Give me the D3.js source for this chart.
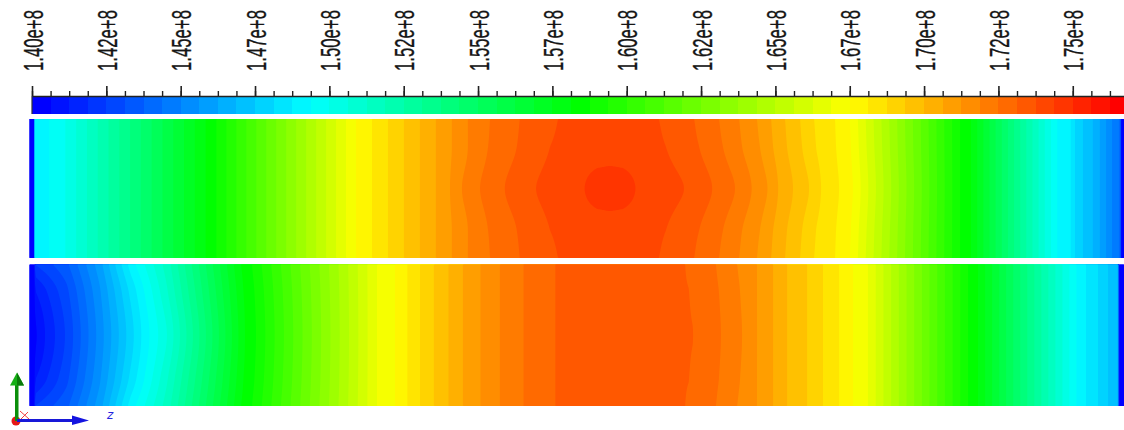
<!DOCTYPE html>
<html>
<head>
<meta charset="utf-8">
<script src="https://cdn.jsdelivr.net/npm/d3@7"></script>
<style>
  html, body { margin: 0; padding: 0; background: #fff; overflow: hidden; }
  svg { display: block; }
</style>
</head>
<body>
<svg id="chart" width="1124" height="430"></svg>
<script>
// Static pressure contours (Pa) on two channel sections, banded colour map.

// ---- colour levels -------------------------------------------------------
const levelMin = 1.40e8;      // Pa
const levelStep = 0.625e6;    // Pa per band
const levelCount = 59;

const tickValues = [1.40e8, 1.425e8, 1.45e8, 1.475e8, 1.50e8, 1.525e8, 1.55e8, 1.575e8,
                    1.60e8, 1.625e8, 1.65e8, 1.675e8, 1.70e8, 1.725e8, 1.75e8];
const tickLabels = ["1.40e+8", "1.42e+8", "1.45e+8", "1.47e+8", "1.50e+8", "1.52e+8", "1.55e+8", "1.57e+8",
                    "1.60e+8", "1.62e+8", "1.65e+8", "1.67e+8", "1.70e+8", "1.72e+8", "1.75e+8"];

// ---- sampled pressure profiles (position along section in mm, pressure in MPa) ----
// rows across the section: wall, 20 % in from the wall, centreline (mirrored below)
const rowFractions = [0, 0.2, 0.5, 0.8, 1];

const topWallPos = [0, 4.7, 5.0, 30.5, 176.2, 186.9, 326.5, 406.5, 438.5, 460.5, 490.5, 528.5, 580.5, 629.5, 664.5, 689.5, 709.5, 727.5, 741.5, 755.5, 770.5, 784.5, 805.5, 820.5, 930.5, 941.5, 1027.5, 1041.5, 1047.5, 1060.5, 1072.5, 1082.5, 1090.8, 1091.8, 1094.5];
const topWallMPa = [140, 140, 148.94, 149.69, 158.13, 158.75, 167.50, 170.63, 171.88, 172.50, 173.13, 173.75, 174.09, 173.75, 173.13, 172.50, 171.88, 171.25, 170.63, 170.00, 169.38, 168.75, 168.13, 167.50, 158.75, 158.13, 149.38, 148.75, 147.81, 147.13, 146.06, 145.00, 144.25, 140, 140];

const topInnerPos = [0, 4.7, 5.0, 30.5, 176.2, 186.9, 326.5, 406.5, 438.5, 458.5, 487.5, 520.5, 550.5, 580.5, 610.5, 636.5, 669.5, 693.5, 712.5, 730.5, 743.5, 757.5, 772.5, 786.5, 806.5, 821.5, 930.5, 941.5, 1027.5, 1041.5, 1047.5, 1060.5, 1072.5, 1082.5, 1090.8, 1091.8, 1094.5];
const topInnerMPa = [140, 140, 148.94, 149.69, 158.13, 158.75, 167.50, 170.63, 171.88, 172.50, 173.13, 173.75, 174.06, 174.13, 174.06, 173.75, 173.13, 172.50, 171.88, 171.25, 170.63, 170.00, 169.38, 168.75, 168.13, 167.50, 158.75, 158.13, 149.38, 148.75, 147.81, 147.13, 146.06, 145.00, 144.25, 140, 140];

const topMidPos = [0, 4.7, 5.0, 30.5, 176.2, 186.9, 326.5, 406.5, 420.5, 432.5, 450.5, 475.5, 506.5, 555.5, 567.5, 580.5, 593.5, 605.5, 654.5, 682.5, 705.5, 722, 738, 748.5, 763.5, 779.5, 791.5, 809.5, 823.5, 930.5, 941.5, 1027.5, 1041.5, 1047.5, 1060.5, 1072.5, 1082.5, 1090.8, 1091.8, 1094.5];
const topMidMPa = [140, 140, 148.94, 149.69, 158.13, 158.75, 167.50, 170.63, 171.25, 171.88, 172.50, 173.13, 173.75, 174.38, 174.58, 174.66, 174.58, 174.38, 173.75, 173.13, 172.50, 171.88, 171.25, 170.63, 170.00, 169.38, 168.75, 168.13, 167.50, 158.75, 158.13, 149.38, 148.75, 147.81, 147.13, 146.06, 145.00, 144.25, 140, 140];

const bottomWallPos = [0, 5, 5.6, 37.5, 70.5, 101.5, 137.5, 211.5, 222.5, 347.5, 365.5, 378, 390.5, 404.5, 419, 433.5, 451, 470.5, 494, 526, 590.5, 655.5, 686.5, 707.5, 727.5, 743.5, 757.5, 777.5, 793.5, 809.5, 823.5, 838.5, 938.5, 948.5, 1050.5, 1068.5, 1078.5, 1088.5, 1089.5, 1094.5];
const bottomWallMPa = [140, 140, 142.50, 143.63, 146.00, 149.06, 151.56, 158.13, 158.75, 166.88, 167.50, 168.13, 168.75, 169.38, 170.00, 170.63, 171.25, 171.88, 172.50, 173.13, 173.47, 173.13, 172.50, 171.88, 171.25, 170.63, 170.00, 169.38, 168.75, 168.13, 167.50, 166.88, 158.75, 158.13, 149.06, 148.13, 147.50, 147.06, 140, 140];

const bottomInnerPos = [0, 5, 5.6, 37.5, 70.5, 101.5, 137.5, 214, 225, 347.5, 365.5, 378, 390.5, 404.5, 419, 433.5, 451, 470.5, 494, 526, 590.5, 659.5, 689.5, 710.5, 727.5, 743.5, 757.5, 777.5, 793.5, 809.5, 823.5, 838.5, 938.5, 948.5, 1050.5, 1068.5, 1078.5, 1088.5, 1089.5, 1094.5];
const bottomInnerMPa = [140, 140, 141.19, 142.98, 145.56, 148.31, 151.16, 158.13, 158.75, 166.88, 167.50, 168.13, 168.75, 169.38, 170.00, 170.63, 171.25, 171.88, 172.50, 173.13, 173.48, 173.13, 172.50, 171.88, 171.25, 170.63, 170.00, 169.38, 168.75, 168.13, 167.50, 166.88, 158.75, 158.13, 149.06, 148.13, 147.50, 147.06, 140, 140];

const bottomMidPos = [0, 5, 5.6, 15.5, 37.5, 70.5, 115.5, 137.5, 215.5, 226.5, 347.5, 365.5, 378, 390.5, 404.5, 419, 433.5, 451, 470.5, 494, 526, 590.5, 663.5, 691.5, 712.5, 727.5, 743.5, 757.5, 777.5, 793.5, 809.5, 823.5, 838.5, 938.5, 948.5, 1050.5, 1068.5, 1078.5, 1088.5, 1089.5, 1094.5];
const bottomMidMPa = [140, 140, 140.50, 141.25, 142.63, 145.31, 149.06, 150.63, 158.13, 158.75, 166.88, 167.50, 168.13, 168.75, 169.38, 170.00, 170.63, 171.25, 171.88, 172.50, 173.13, 173.50, 173.13, 172.50, 171.88, 171.25, 170.63, 170.00, 169.38, 168.75, 168.13, 167.50, 166.88, 158.75, 158.13, 149.06, 148.13, 147.50, 147.06, 140, 140];

// ---- setup -----------------------------------------------------------------
const svg = d3.select("#chart");
const thresholds = d3.range(levelCount).map(i => levelMin + i * levelStep);
const levelTop = levelMin + levelCount * levelStep;
const bandColor = i => d3.hsl(240 * (1 - i / (levelCount - 1)), 1, 0.5).formatRgb();

// monotone cubic through the row samples, so bands bend smoothly across the section
function monotoneCurve(xs, ys) {
  const n = xs.length, d = [], m = new Array(n);
  for (let i = 0; i < n - 1; i++) d.push((ys[i + 1] - ys[i]) / (xs[i + 1] - xs[i]));
  m[0] = d[0]; m[n - 1] = d[n - 2];
  for (let i = 1; i < n - 1; i++) {
    if (d[i - 1] * d[i] <= 0) { m[i] = 0; continue; }
    const h0 = xs[i] - xs[i - 1], h1 = xs[i + 1] - xs[i];
    m[i] = 3 * (h0 + h1) / ((2 * h1 + h0) / d[i - 1] + (h1 + 2 * h0) / d[i]);
  }
  return t => {
    let k = 0;
    while (k < n - 2 && t > xs[k + 1]) k++;
    const h = xs[k + 1] - xs[k], s = (t - xs[k]) / h;
    const s2 = s * s, s3 = s2 * s;
    return (2 * s3 - 3 * s2 + 1) * ys[k] + (s3 - 2 * s2 + s) * h * m[k]
         + (-2 * s3 + 3 * s2) * ys[k + 1] + (s3 - s2) * h * m[k + 1];
  };
}

// ---- colour bar ------------------------------------------------------------
const barTop = 96, barBottom = 114;
const barScale = d3.scaleLinear().domain([levelMin, levelTop]).range([32, 32 + levelCount * 18.585]);

const bar = svg.append("g").attr("class", "colorbar");
bar.append("g").attr("shape-rendering", "crispEdges")
  .selectAll("rect").data(thresholds).join("rect")
  .attr("x", d => barScale(d))
  .attr("y", barTop)
  .attr("width", d => barScale(d + levelStep) - barScale(d))
  .attr("height", barBottom - barTop)
  .attr("fill", (d, i) => bandColor(i));

bar.append("line")
  .attr("x1", barScale(levelMin)).attr("x2", barScale(levelMin))
  .attr("y1", barTop).attr("y2", barBottom)
  .attr("stroke", "#333").attr("stroke-width", 1.2);

// minor ticks on every band edge
const minorAxis = d3.axisTop(barScale).tickValues(d3.range(levelCount + 1).map(i => levelMin + i * levelStep))
  .tickSize(5).tickSizeOuter(0).tickFormat("");
const minorG = bar.append("g").attr("transform", `translate(0,${barTop})`).call(minorAxis);
minorG.select(".domain").remove();
minorG.selectAll("line").attr("stroke", "#222").attr("stroke-width", 1.4);

// major ticks with rotated, condensed labels
const labelLength = 61, labelBaseline = 10, labelGap = 25;
const majorAxis = d3.axisTop(barScale).tickValues(tickValues)
  .tickFormat((d, i) => tickLabels[i]).tickSize(10).tickSizeOuter(0);
const majorG = bar.append("g").attr("transform", `translate(0,${barTop})`).call(majorAxis);
majorG.attr("font-size", null).attr("font-family", null);
majorG.select(".domain").attr("stroke", "#222").attr("stroke-width", 1.4);
majorG.selectAll("line").attr("stroke", "#222").attr("stroke-width", 1.6);
majorG.selectAll("text")
  .attr("x", 0).attr("y", 0).attr("dy", null)
  .attr("text-anchor", "start")
  .attr("fill", "#151515")
  .attr("stroke", "#151515").attr("stroke-width", 0.35)
  .attr("font-family", "'Liberation Sans', Arial, sans-serif")
  .attr("font-size", 28)
  .each(function () {
    const natural = this.getComputedTextLength();
    const sx = natural > 0 ? labelLength / natural : 1;
    d3.select(this).attr("transform",
      `translate(${labelBaseline},${-labelGap}) rotate(-90) scale(${sx},1)`);
  });

// ---- contour panels --------------------------------------------------------
const xScale = d3.scaleLinear().domain([0, 1094.5]).range([29.5, 1124]);

function drawPanel(rows, yTop, yBottom) {
  const yScale = d3.scaleLinear().domain([0, 1]).range([yTop, yBottom]);
  const [px0, px1] = xScale.range();
  const nx = Math.round(px1 - px0);
  const ny = Math.round(yBottom - yTop);
  const gridX = d3.scaleLinear().domain([0, nx]).range(xScale.domain());
  const gridY = d3.scaleLinear().domain([0, ny]).range([0, 1]);

  const profiles = rows.map(r =>
    d3.scaleLinear().domain(r.pos).range(r.mpa.map(v => v * 1e6)).clamp(true));

  const values = new Float64Array(nx * ny);
  for (let i = 0; i < nx; i++) {
    const p = gridX(i + 0.5);
    const [wall, inner, mid] = profiles.map(s => s(p));
    const across = monotoneCurve(rowFractions, [wall, inner, mid, inner, wall]);
    for (let j = 0; j < ny; j++) {
      // keep rounding noise from dropping below the lowest level
      values[j * nx + i] = Math.max(levelMin, across(gridY(j + 0.5)));
    }
  }

  const bands = d3.contours().size([nx, ny]).thresholds(thresholds)(values);
  const toScreen = d3.geoTransform({
    point(x, y) { this.stream.point(xScale(gridX(x)), yScale(gridY(y))); }
  });
  const path = d3.geoPath(toScreen);

  const g = svg.append("g").attr("class", "panel");
  g.append("rect")
    .attr("x", px0).attr("y", yTop)
    .attr("width", px1 - px0).attr("height", yBottom - yTop)
    .attr("fill", bandColor(0));
  g.selectAll("path.band").data(bands).join("path")
    .attr("class", "band")
    .attr("d", path)
    .attr("fill", (d, i) => bandColor(i));
}

drawPanel([
  { pos: topWallPos, mpa: topWallMPa },
  { pos: topInnerPos, mpa: topInnerMPa },
  { pos: topMidPos, mpa: topMidMPa }
], 119, 258);

drawPanel([
  { pos: bottomWallPos, mpa: bottomWallMPa },
  { pos: bottomInnerPos, mpa: bottomInnerMPa },
  { pos: bottomMidPos, mpa: bottomMidMPa }
], 264.5, 406);

// ---- axis triad --------------------------------------------------------------
const triad = svg.append("g").attr("class", "triad");
// x axis (out of the screen)
triad.append("circle").attr("cx", 16).attr("cy", 421).attr("r", 4.5).attr("fill", "#e41818");
triad.append("path").attr("d", "M20,411 L29,419 M21,419 L28,412")
  .attr("stroke", "#f04040").attr("stroke-width", 1).attr("fill", "none");
// y axis
triad.append("rect").attr("x", 15).attr("y", 384).attr("width", 3.5).attr("height", 37).attr("fill", "#0b8f0b");
triad.append("path").attr("d", "M10,385.5 L17,372.5 L24,385.5 Z").attr("fill", "#16b016");
triad.append("path").attr("d", "M17,372.5 L24,385.5 L17,385.5 Z").attr("fill", "#0a7a0a");
// z axis
triad.append("rect").attr("x", 17).attr("y", 419).attr("width", 56).attr("height", 3).attr("fill", "#1818d8");
triad.append("path").attr("d", "M72,415.5 L89,420.5 L72,425 Z").attr("fill", "#1414e0");
triad.append("text").attr("x", 107).attr("y", 419).text("z")
  .attr("font-family", "'DejaVu Sans', sans-serif").attr("font-style", "italic")
  .attr("font-size", 12).attr("fill", "#2424e0");
</script>
</body>
</html>
